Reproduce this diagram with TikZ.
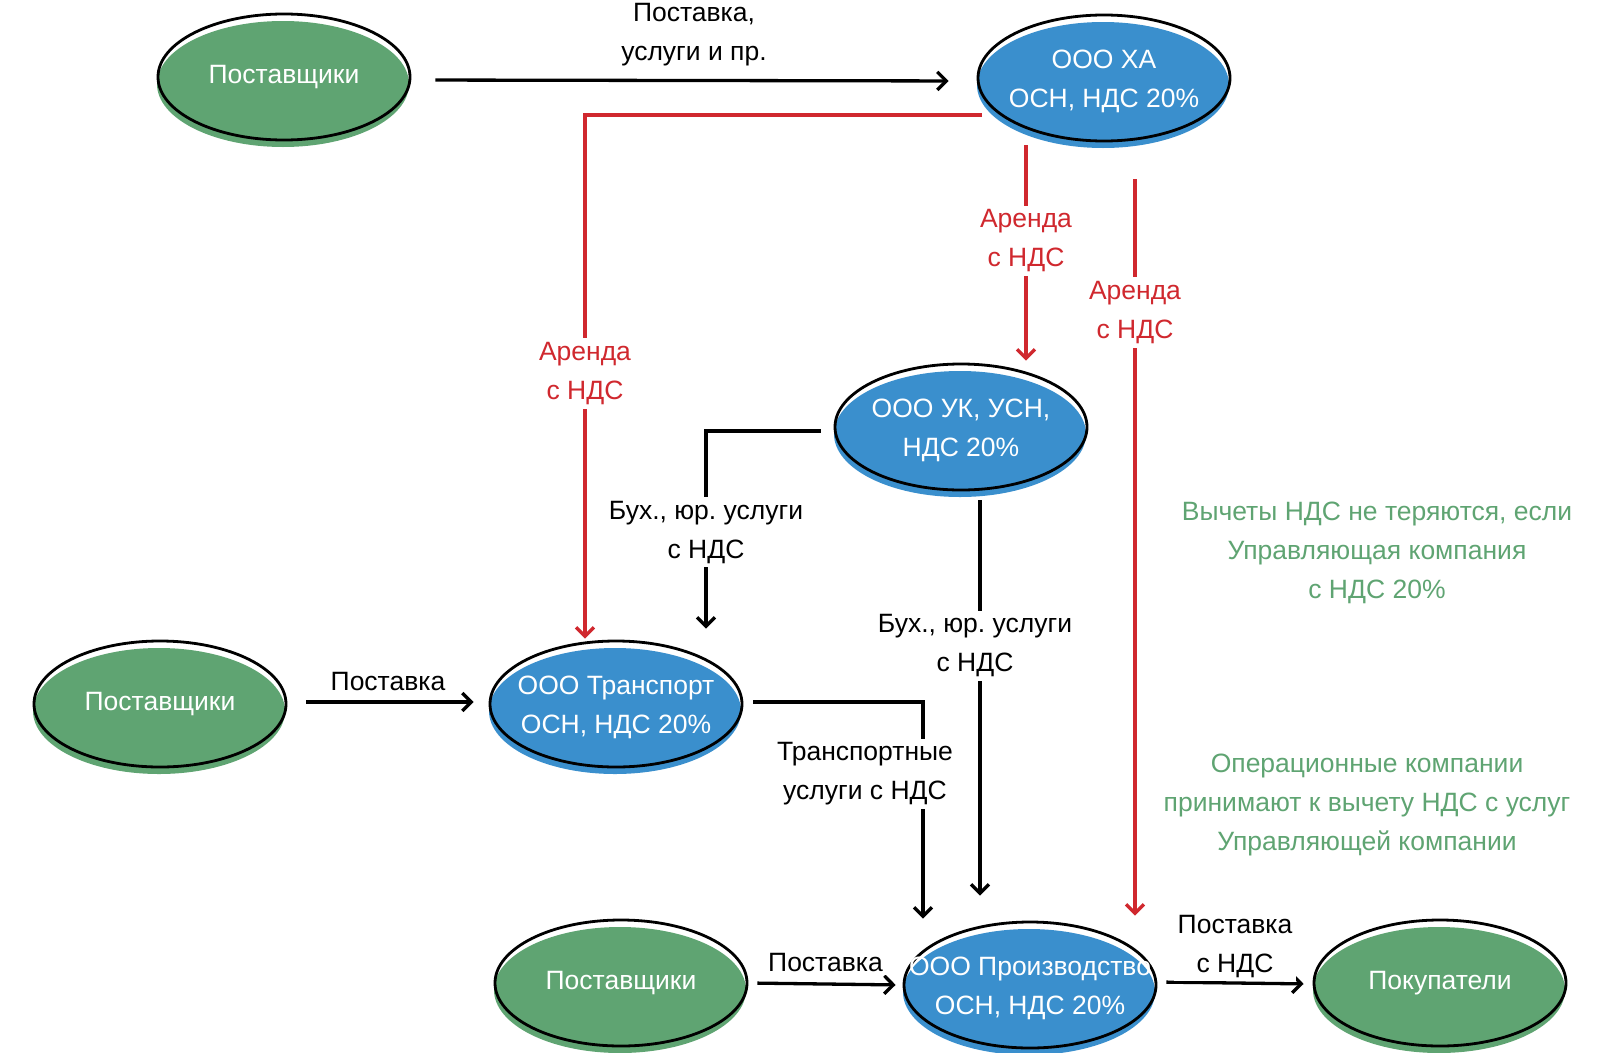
\documentclass[tikz,border=0pt]{standalone}
\usepackage{fontspec}
\setmainfont{Liberation Sans}
\usetikzlibrary{
  shapes.geometric,
  arrows.meta,
  positioning, calc,
  shadows
}
\usepackage{xcolor}

\definecolor{firmblue}{RGB}{58,143,205}
\definecolor{partygreen}{RGB}{95,164,114}
\definecolor{rentred}{RGB}{208,40,46}

\begin{document}
\frenchspacing
\begin{tikzpicture}[
  x=1pt, y=-1pt,
  >={Straight Barb[length=9pt,width=18pt]},
  font=\fontsize{26.5}{39}\selectfont,
  oval/.style={ellipse, draw=black, line width=2.8pt, inner sep=0pt,
               minimum width=252pt, minimum height=126pt,
               drop shadow={shadow xshift=-1pt, shadow yshift=-7pt,
                            fill=#1, opacity=1}},
  party/.style={oval=partygreen},
  firm/.style={oval=firmblue},
  ovaltext/.style={text=white, align=center, inner sep=0pt},
  firmtext/.style={ovaltext, yshift=-3pt},
  lbl/.style={align=center, fill=white, inner sep=4pt},
  arr/.style={line width=3.3pt, ->},
  rent/.style={arr, draw=rentred},
  note/.style={align=center, text=partygreen, inner sep=0pt}
]
  \useasboundingbox (0,0) rectangle (1600,1052);

  \node[party] (sup1) at (284,77) {};
  \node[ovaltext] (sup1-t) at (sup1) {Поставщики};
  \node[firm] (xa) at (1104,78) {};
  \node[firmtext] (xa-t) at (xa) {ООО ХА\\ОСН, НДС 20\%};
  \node[firm] (uk) at (961,427) {};
  \node[firmtext] (uk-t) at (uk) {ООО УК, УСН,\\НДС 20\%};
  \node[party] (sup2) at (160,704) {};
  \node[ovaltext] (sup2-t) at (sup2) {Поставщики};
  \node[firm] (trans) at (616,704) {};
  \node[firmtext] (trans-t) at (trans) {ООО Транспорт\\ОСН, НДС 20\%};
  \node[party] (sup3) at (621,983) {};
  \node[ovaltext] (sup3-t) at (sup3) {Поставщики};
  \node[firm] (prod) at (1030,985) {};
  \node[firmtext] (prod-t) at (prod) {ООО Производство\\ОСН, НДС 20\%};
  \node[party] (cust) at (1440,983) {};
  \node[ovaltext] (cust-t) at (cust) {Покупатели};

  \node[note] (n1) at (1377,553)
    {Вычеты НДС не теряются, если\\Управляющая компания\\с НДС 20\%};
  \node[note] (n2) at (1367,805)
    {Операционные компании\\принимают к вычету НДС с услуг\\Управляющей компании};

  % supplies
  \draw[arr, shorten <=24pt, shorten >=28pt] ([yshift=-3pt]sup1.east) --
    node[lbl, midway, above=9pt] {Поставка,\\услуги и пр.} ([yshift=-3pt]xa.west);
  \draw[arr, shorten <=19pt, shorten >=15pt] ([yshift=2pt]sup2.east) --
    node[lbl, midway, above=6pt] {Поставка} ([yshift=2pt]trans.west);
  \draw[arr, shorten <=9pt, shorten >=7pt] (sup3.east) --
    node[lbl, midway, above=7pt] {Поставка} (prod.west);
  \draw[arr, shorten <=9pt, shorten >=9pt] ([yshift=3pt]prod.east) --
    node[lbl, midway, above=0pt] {Поставка\\с НДС} ([yshift=-1pt]cust.west);

  % rent
  \draw[rent] ($(xa)+(-122,37)$) -|
    node[lbl, text=rentred, pos=0.747] {Аренда\\с НДС} ($(trans.north)+(-31,-1)$);
  \draw[rent] ($(xa.south)+(-78,3)$) --
    node[lbl, text=rentred, pos=0.444] {Аренда\\с НДС} ($(uk.north)+(65,-2)$);
  \draw[rent] ($(xa.south)+(31,37)$) --
    node[lbl, text=rentred, pos=0.181] {Аренда\\с НДС} ($(prod.north)+(105,-5)$);

  % services
  \draw[arr] ($(uk.west)+(-13,4)$) -|
    node[lbl, pos=0.756] {Бух., юр. услуги\\с НДС} ($(trans.north)+(90,-11)$);
  \draw[arr] ($(uk.south)+(19,9)$) --
    node[lbl, pos=0.368, xshift=-5pt] {Бух., юр. услуги\\с НДС} ($(prod.north)+(-50,-25)$);
  \draw[arr] ($(trans.east)+(10,-2)$) -|
    node[lbl, pos=0.666, xshift=-58pt] {Транспортные\\услуги с НДС} ($(prod.north)+(-107,-2)$);
\end{tikzpicture}
\end{document}
